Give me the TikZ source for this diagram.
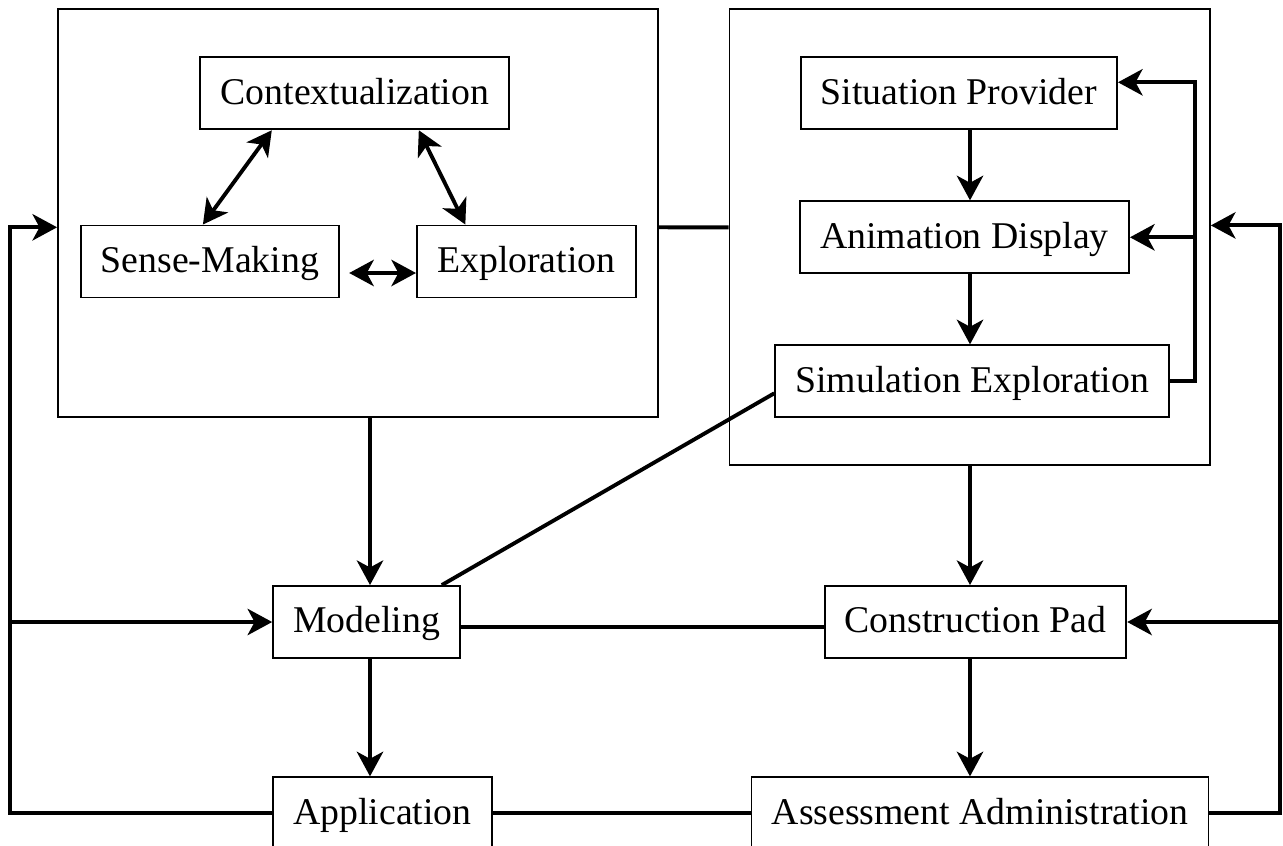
\documentclass[tikz,border=0pt]{standalone}
\usepackage{fontspec}
\setmainfont{Liberation Serif}
\usetikzlibrary{calc,arrows.meta}

\begin{document}
\begin{tikzpicture}[
  x=0.02cm, y=-0.02cm,
  font=\fontsize{21.5}{25}\selectfont,
]

  \tikzstyle{compnode}=[draw,rectangle,line width=1.1pt,minimum height=1.44cm,inner xsep=11.5pt,inner ysep=0pt,text height=16.5pt,text depth=4.2pt]
  \tikzstyle{groupnode}=[draw,rectangle,line width=1.1pt,inner sep=0pt]
  \tikzstyle{pointer}=[draw,->,line width=2.2pt,>={Stealth[length=14pt,width=15pt,inset=4pt]}]
  \tikzstyle{twoway}=[pointer,<->]
  \tikzstyle{link}=[draw,line width=2.2pt]

  \useasboundingbox (0,0) rectangle (1283,845);
  \clip (0,0) rectangle (1283,845);

  % groups
  \node[groupnode,minimum width=12cm,minimum height=8.16cm] (leftgrp) at (358,213.3) {};
  \node[groupnode,minimum width=9.61cm,minimum height=9.12cm] (rightgrp) at (969.7,237.4) {};

  % nodes
  \node[compnode] (ctx) at (354.8,93.3) {Contextualization};
  \node[compnode] (sense) at (209.9,261.5) {Sense-Making};
  \node[compnode] (explo) [right of=sense, node distance=6.33cm] {Exploration};

  \node[compnode] (sit) at (958.8,93.3) {Situation Provider};
  \node[compnode] (anim) at (964.5,237.3) {Animation Display};
  \node[compnode] (simx) at (972.2,381.3) {Simulation Exploration};

  \node[compnode] (model) at (366.8,622) {Modeling};
  \node[compnode] (cpad) at (975.4,622) {Construction Pad};
  \node[compnode] (appl) at (382.5,813.3) {Application};
  \node[compnode] (assess) at (980,813.3) {Assessment Administration};

  % rails and columns
  \coordinate (lrail) at (10,0);
  \coordinate (rrail) at (1280,0);
  \coordinate (irail) at (1195,0);
  \coordinate (lcol) at (370,0);
  \coordinate (rcol) at (970,0);

  % pointers, left group
  \draw[twoway] ($(ctx.south)+(-83,0)$) -- ($(sense.north)+(-7,0)$);
  \draw[twoway] ($(ctx.south)+(64,0)$) -- ($(explo.north)+(-61,0)$);
  \draw[twoway] ($(sense.east)+(9,11.5)$) -- ($(explo.west)+(0,11.5)$);

  % pointers, right group
  \draw[pointer] (sit.south -| rcol) -- (anim.north -| rcol);
  \draw[pointer] (anim.south -| rcol) -- (simx.north -| rcol);
  \draw[pointer] (simx.east) -- (simx.east -| irail) |- ($(sit.east)+(0,-11)$);
  \draw[pointer] (anim.east -| irail) -- (anim.east);

  % between blocks
  \draw[link] ($(leftgrp.east)+(0,14)$) -- ($(rightgrp.west)+(0,-10)$);
  \draw[link] ($(simx.west)+(0,12)$) -- ($(model.north)+(75,0)$);
  \draw[pointer] (leftgrp.south -| lcol) -- (model.north -| lcol);
  \draw[pointer] (rightgrp.south -| rcol) -- (cpad.north -| rcol);
  \draw[pointer] (model.south -| lcol) -- (appl.north -| lcol);
  \draw[pointer] (cpad.south -| rcol) -- (assess.north -| rcol);
  \draw[link] ($(model.east)+(0,5)$) -- ($(cpad.west)+(0,5)$);
  \draw[link] (appl.east) -- (assess.west);

  % feedback
  \draw[pointer] (appl.west) -- (appl.west -| lrail) |- ($(leftgrp.west)+(0,14)$);
  \draw[pointer] (model.west -| lrail) -- (model.west);
  \draw[pointer] (assess.east) -- (assess.east -| rrail) |- ($(rightgrp.east)+(0,-12)$);
  \draw[pointer] (cpad.east -| rrail) -- (cpad.east);

\end{tikzpicture}
\end{document}
